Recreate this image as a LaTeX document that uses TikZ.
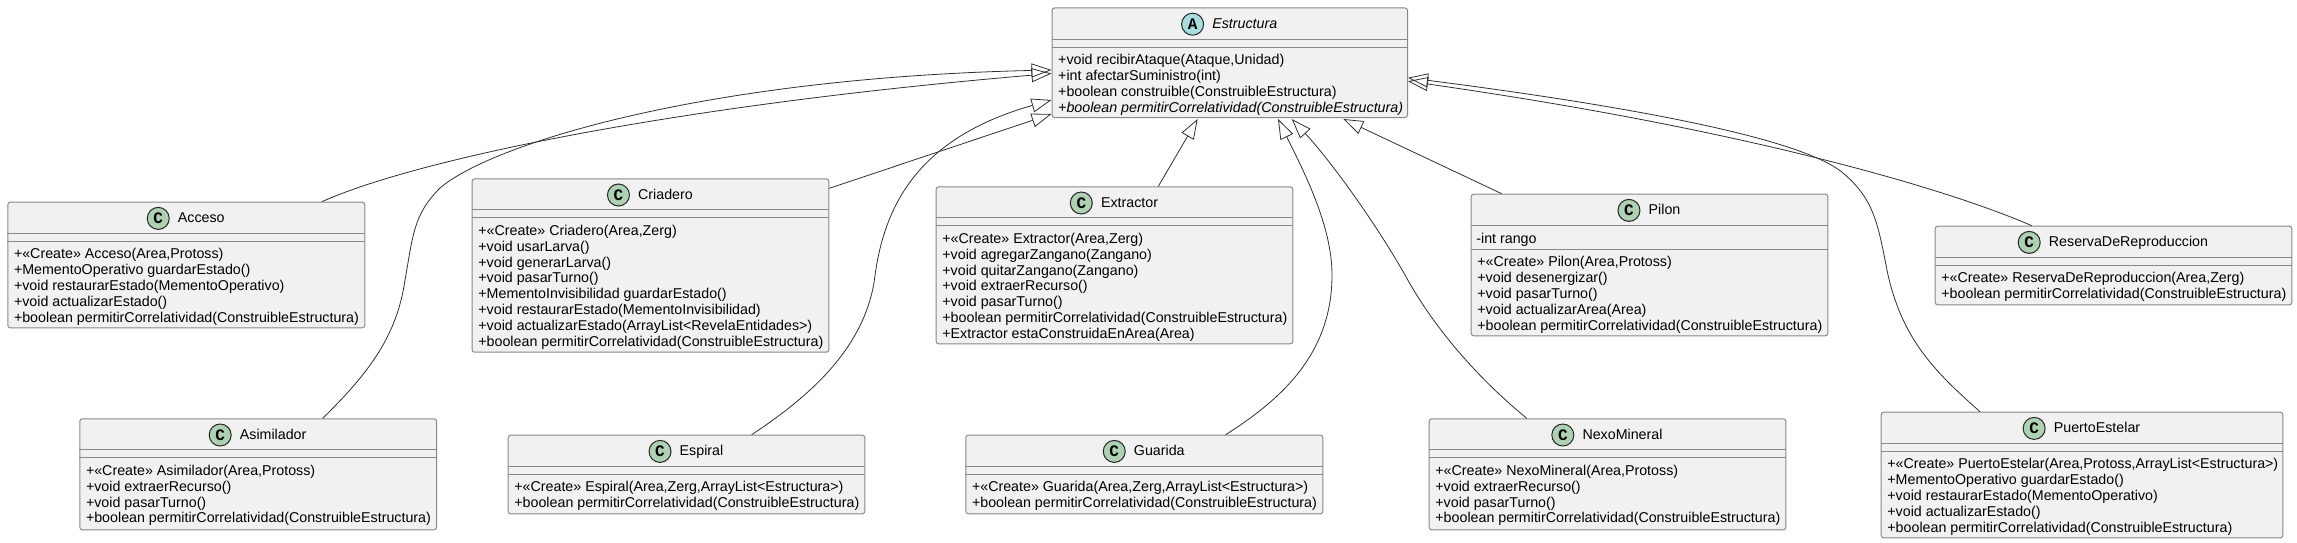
\documentclass[tikz,border=0pt]{standalone}
\usepackage{fontspec}
\setmainfont{Liberation Sans}
\newfontfamily\spotfont{Liberation Mono}
\usetikzlibrary{positioning,arrows.meta}
\definecolor{boxfill}{HTML}{F1F1F1}
\definecolor{boxline}{HTML}{888888}
\definecolor{linkline}{HTML}{303030}
\definecolor{classgreen}{HTML}{ADD1B2}
\definecolor{abstractblue}{HTML}{A9DCDF}
% [rule offset]{name}{left}{top}{width}{height}{title}{members}
\newcommand{\umlclass}[8][39.6]{
  \node[classbody, minimum width=#5pt, minimum height=#6pt] (#2) at (#3,#4) {};
  \node[classtitle] (#2Title) at ([xshift=15pt,yshift=-16.7pt]#2.north) {#7};
  \draw[classrule] ([yshift=-31.6pt]#2.north west) -- ([yshift=-31.6pt]#2.north east);
  \draw[classrule] ([yshift=-#1pt]#2.north west) -- ([yshift=-#1pt]#2.north east);
  \node[classmembers] (#2Members) at ([xshift=6.5pt,yshift=-#1pt-7pt]#2.north west) {#8};
}
\begin{document}
\begin{tikzpicture}[x=1pt, y=-1pt,
  classbody/.style = {shape=rectangle, rounded corners=2.5pt, anchor=north west,
    draw=boxline, fill=boxfill, line width=1pt, inner sep=0pt},
  classrule/.style = {draw=boxline, line width=1pt},
  classtitle/.style = {font=\fontsize{14.25pt}{16pt}\selectfont, inner sep=0pt,
    text height=11pt, text depth=3pt},
  classmembers/.style = {anchor=north west, inner sep=0pt, align=left,
    font=\fontsize{14.25pt}{15.8pt}\selectfont,
    execute at begin node=\rule{0pt}{11pt}},
  classspot/.style = {shape=circle, draw=black!85, fill=classgreen, line width=1pt,
    minimum size=22pt, inner sep=0pt, font=\spotfont\bfseries\fontsize{16pt}{16pt}\selectfont},
  abstractspot/.style = {classspot, fill=abstractblue},
  extends/.style = {draw=linkline, line width=.8pt,
    -{Triangle[open,length=20pt,width=14pt]}}]
  \path[use as bounding box] (0,0) rectangle (2297,543);

  \umlclass{Estructura}{1051.5}{7.5}{355.5}{109.5}{\itshape Estructura}
    {+void recibirAtaque(Ataque,Unidad)\\+int afectarSuministro(int)\\
     +boolean construible(ConstruibleEstructura)\\
     \itshape +boolean permitirCorrelatividad(ConstruibleEstructura)}

  \umlclass{Acceso}{7.3}{201.7}{357}{125.6}{Acceso}
    {+«Create» Acceso(Area,Protoss)\\+MementoOperativo guardarEstado()\\
     +void restaurarEstado(MementoOperativo)\\+void actualizarEstado()\\
     +boolean permitirCorrelatividad(ConstruibleEstructura)}
  \umlclass{Criadero}{471.7}{178.3}{356.6}{173.4}{Criadero}
    {+«Create» Criadero(Area,Zerg)\\+void usarLarva()\\+void generarLarva()\\
     +void pasarTurno()\\+MementoInvisibilidad guardarEstado()\\
     +void restaurarEstado(MementoInvisibilidad)\\
     +void actualizarEstado(ArrayList<RevelaEntidades>)\\
     +boolean permitirCorrelatividad(ConstruibleEstructura)}
  \umlclass{Extractor}{935.7}{186.3}{356.6}{157}{Extractor}
    {+«Create» Extractor(Area,Zerg)\\+void agregarZangano(Zangano)\\
     +void quitarZangano(Zangano)\\+void extraerRecurso()\\+void pasarTurno()\\
     +boolean permitirCorrelatividad(ConstruibleEstructura)\\
     +Extractor estaConstruidaEnArea(Area)}
  \umlclass[55.6]{Pilon}{1470.7}{193.7}{356.6}{141.6}{Pilon}
    {+«Create» Pilon(Area,Protoss)\\+void desenergizar()\\+void pasarTurno()\\
     +void actualizarArea(Area)\\
     +boolean permitirCorrelatividad(ConstruibleEstructura)}
  \node[classmembers] (PilonField) at ([xshift=5.5pt,yshift=-38.6pt]Pilon.north west) {-int rango};
  \umlclass{ReservaDeReproduccion}{1934.7}{225.7}{356.6}{78.6}{ReservaDeReproduccion}
    {+«Create» ReservaDeReproduccion(Area,Zerg)\\
     +boolean permitirCorrelatividad(ConstruibleEstructura)}

  \umlclass{Asimilador}{79.3}{418.3}{356.7}{111}{Asimilador}
    {+«Create» Asimilador(Area,Protoss)\\+void extraerRecurso()\\+void pasarTurno()\\
     +boolean permitirCorrelatividad(ConstruibleEstructura)}
  \umlclass{Espiral}{507.7}{434.7}{356.6}{78.6}{Espiral}
    {+«Create» Espiral(Area,Zerg,ArrayList<Estructura>)\\
     +boolean permitirCorrelatividad(ConstruibleEstructura)}
  \umlclass{Guarida}{965.3}{434.7}{357}{78.6}{Guarida}
    {+«Create» Guarida(Area,Zerg,ArrayList<Estructura>)\\
     +boolean permitirCorrelatividad(ConstruibleEstructura)}
  \umlclass{NexoMineral}{1428.7}{418.3}{356.6}{111}{NexoMineral}
    {+«Create» NexoMineral(Area,Protoss)\\+void extraerRecurso()\\+void pasarTurno()\\
     +boolean permitirCorrelatividad(ConstruibleEstructura)}
  \umlclass{PuertoEstelar}{1880.7}{411.7}{401.6}{125.6}{PuertoEstelar}
    {+«Create» PuertoEstelar(Area,Protoss,ArrayList<Estructura>)\\
     +MementoOperativo guardarEstado()\\+void restaurarEstado(MementoOperativo)\\
     +void actualizarEstado()\\
     +boolean permitirCorrelatividad(ConstruibleEstructura)}

  \node[abstractspot, left=8pt of EstructuraTitle] (EstructuraSpot) {A};
  \foreach \name in {Acceso,Criadero,Extractor,Pilon,ReservaDeReproduccion,
    Asimilador,Espiral,Guarida,NexoMineral,PuertoEstelar}
    \node[classspot, left=8pt of \name Title] (\name Spot) {C};

  % generalisation arrows, left side first
  \draw[extends] ([xshift=243.4pt]Asimilador.north west)
    .. controls (370,372) and (397,335) .. (405,280)
    .. controls (413,236) and (413,215) .. (440,188)
    .. controls (490,145) and (700,78) .. ([yshift=-62.5pt]Estructura.north west);
  \draw[extends] ([xshift=314.5pt]Acceso.north west)
    .. controls (420,158) and (680,105) .. ([yshift=-66pt]Estructura.north west);
  \draw[extends] ([xshift=244pt]Espiral.north west)
    .. controls (810,396) and (862,350) .. (874,283)
    .. controls (882,215) and (910,140) .. ([yshift=-92.5pt]Estructura.north west);
  \draw[extends] ([yshift=-10pt]Criadero.north east) -- ([yshift=-106.5pt]Estructura.north west);
  \draw[extends] ([xshift=222.6pt]Extractor.north west) -- ([xshift=146.2pt,yshift=-1pt]Estructura.south west);
  \draw[extends] ([xshift=260.4pt]Guarida.north west)
    .. controls (1280,400) and (1332,355) .. (1332,275)
    .. controls (1332,225) and (1303,170) .. ([xshift=226.5pt,yshift=-1pt]Estructura.south west);
  \draw[extends] ([xshift=98pt]NexoMineral.north west)
    .. controls (1480,380) and (1435,330) .. (1405,275)
    .. controls (1375,222) and (1330,160) .. ([xshift=240.2pt,yshift=-1pt]Estructura.south west);
  \draw[extends] ([xshift=31pt]Pilon.north west) -- ([xshift=291.8pt,yshift=-1pt]Estructura.south west);
  \draw[extends] ([xshift=99.3pt]PuertoEstelar.north west)
    .. controls (1935,372) and (1903,340) .. (1888,275)
    .. controls (1878,225) and (1875,200) .. (1843,173)
    .. controls (1800,137) and (1620,105) .. ([yshift=-70.3pt]Estructura.north east);
  \draw[extends] ([xshift=97pt]ReservaDeReproduccion.north west)
    .. controls (1950,190) and (1750,130) .. ([yshift=-73.7pt]Estructura.north east);
\end{tikzpicture}
\end{document}
